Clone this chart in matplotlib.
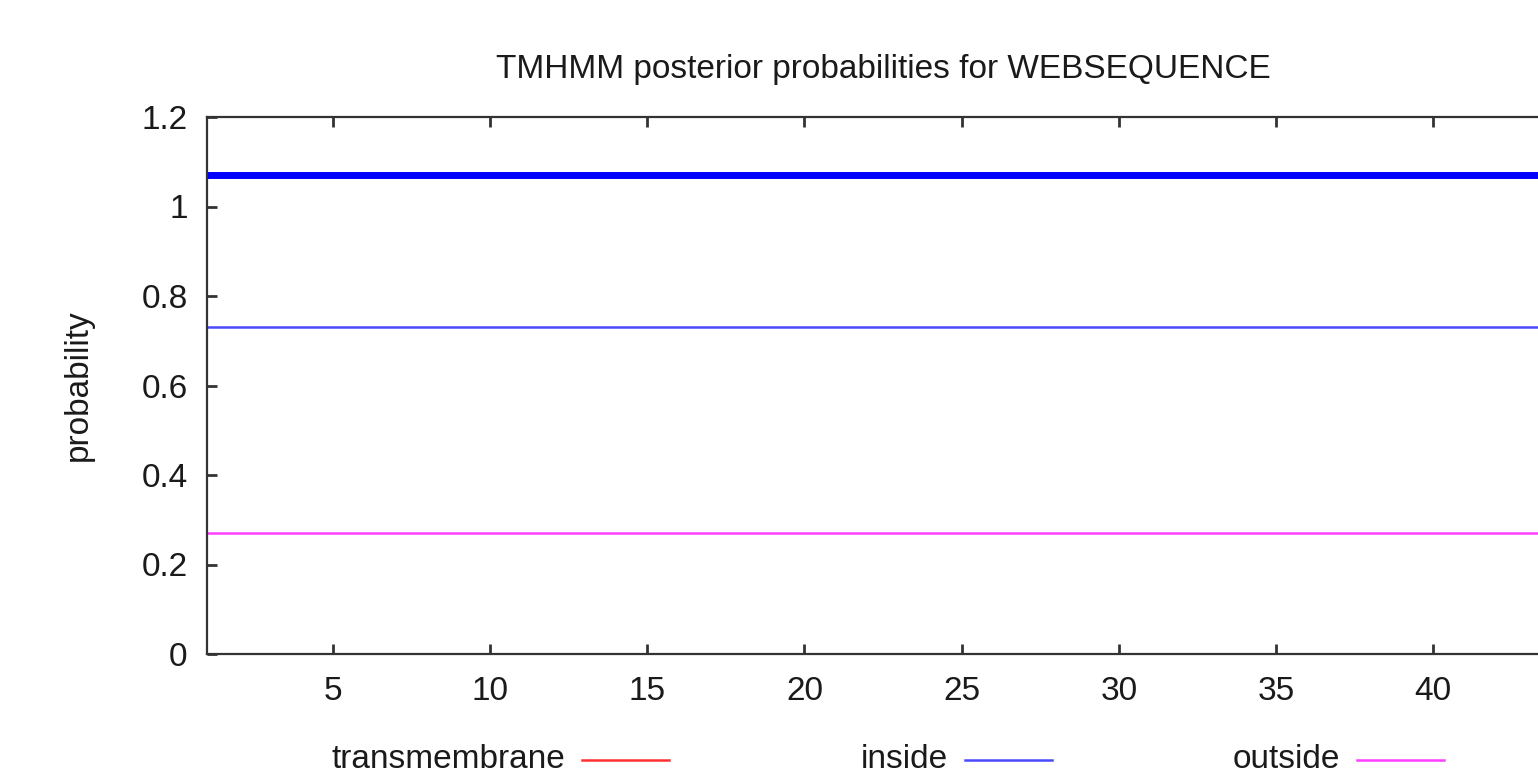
import numpy as np
from matplotlib import pyplot as plt
from matplotlib.lines import Line2D

plt.rcParams['font.family'] = ['Liberation Sans', 'DejaVu Sans']

# per-residue posterior probabilities
positions = list(range(1, 45))
transmembrane = [0.0] * len(positions)
inside = [0.73] * len(positions)
outside = [0.27] * len(positions)
# predicted topology bar (drawn above the curves)
topology_level = 1.07

series_labels = ['transmembrane', 'inside', 'outside']
series_colors = ['#ff3030', '#4a4aff', '#ff40ff']

xticks = [5, 10, 15, 20, 25, 30, 35, 40]
yticks = [0, 0.2, 0.4, 0.6, 0.8, 1, 1.2]
yticklabels = ['0', '0.2', '0.4', '0.6', '0.8', '1', '1.2']

W, H = 1538, 777
fs = 24
fig = plt.figure(figsize=(W / 100, H / 100), dpi=100)
ax = fig.add_axes([207 / W, 123 / H, (1559 - 207) / W, (654 - 117) / H])

ax.plot(positions, transmembrane, color=series_colors[0], lw=1.3, zorder=1)
ax.plot(positions, inside, color=series_colors[1], lw=1.8)
ax.plot(positions, outside, color=series_colors[2], lw=1.8)
ax.plot([positions[0], positions[-1]], [topology_level] * 2, color='#0000ff', lw=5)

ax.set_xlim(1, 44)
ax.set_ylim(0, 1.2)
ax.set_xticks(xticks)
ax.set_yticks(yticks)
ax.set_yticklabels(yticklabels)
ax.tick_params(direction='in', top=True, right=True, length=7, width=2,
               color='#333333', labelsize=fs, labelcolor='#1a1a1a', pad=14)
ax.tick_params(axis='x', pad=16)
for sp in ax.spines.values():
    sp.set_color('#333333')
    sp.set_linewidth(1.6)

ax.set_title('TMHMM posterior probabilities for WEBSEQUENCE', fontsize=fs,
             color='#1a1a1a', pad=28)
ax.set_ylabel('probability', fontsize=fs, color='#1a1a1a', labelpad=34)

# gnuplot-style key below the plot: text then line sample
text_right = [565, 948, 1340]
for i, (lab, col) in enumerate(zip(series_labels, series_colors)):
    xr = text_right[i]
    fig.text(xr / W, 1 - 760 / H, lab, ha='right', va='center', fontsize=fs,
             color='#1a1a1a')
    fig.add_artist(Line2D([(xr + 17) / W, (xr + 104) / W], [1 - 760 / H] * 2,
                          color=col, lw=1.8))

fig.savefig('out.png', dpi=100)
